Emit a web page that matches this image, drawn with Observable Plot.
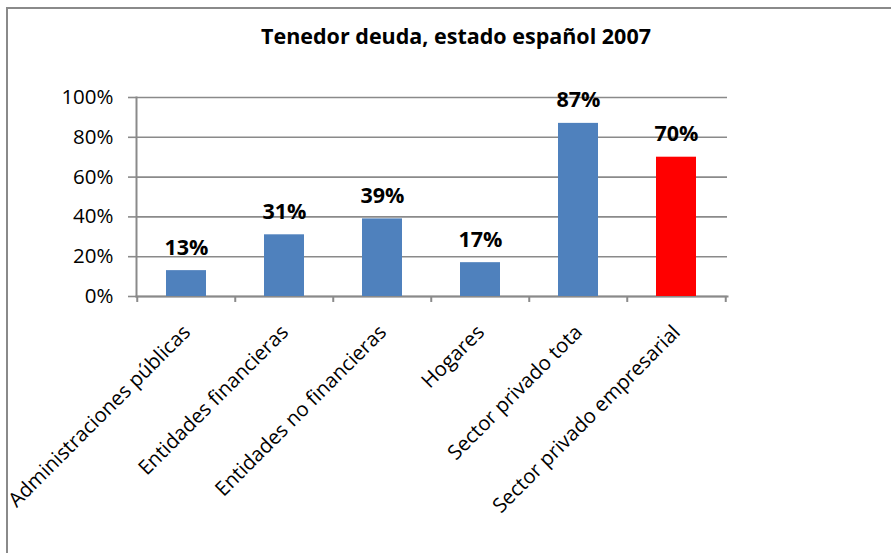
<!DOCTYPE html>
<html>
<head>
<meta charset="utf-8">
<script src="https://cdn.jsdelivr.net/npm/d3@7"></script>
<script src="https://cdn.jsdelivr.net/npm/@observablehq/plot@0.6"></script>
<style>
  html, body { margin: 0; padding: 0; background: #fff; }
  #wrap { position: relative; width: 891px; height: 553px; overflow: hidden; }
  #border { position: absolute; left: 6px; top: 7px; width: 900px; height: 560px;
            border-left: 2px solid #8a8a8a; border-top: 2px solid #8a8a8a; pointer-events: none; }
  svg { font-family: "Open Sans", sans-serif; }
</style>
</head>
<body>
<div id="wrap"><div id="border"></div></div>
<script>
const title = "Tenedor deuda, estado español 2007";
const categories = [
  "Administraciones públicas",
  "Entidades financieras",
  "Entidades no financieras",
  "Hogares",
  "Sector privado tota",
  "Sector privado empresarial"
];
const values = [0.13, 0.31, 0.39, 0.17, 0.87, 0.70];
const barColors = ["#4F81BD", "#4F81BD", "#4F81BD", "#4F81BD", "#4F81BD", "#FF0000"];
const yTicks = [0, 0.2, 0.4, 0.6, 0.8, 1.0];

const data = categories.map((c, i) => ({category: c, value: values[i], color: barColors[i]}));

const W = 891, H = 553;
const mL = 136, mR = 164, mT = 97, mB = 257;
const step = (W - mL - mR) / categories.length;
const grid = "#8a8a8a";

const chart = Plot.plot({
  width: W,
  height: H,
  marginLeft: mL,
  marginRight: mR,
  marginTop: mT,
  marginBottom: mB,
  style: {fontFamily: "'Open Sans', sans-serif", background: "transparent"},
  x: {domain: categories, paddingInner: 0.59, paddingOuter: 0.295, axis: null},
  y: {domain: [0, 1]},
  marks: [
    Plot.gridY(yTicks, {stroke: grid, strokeOpacity: 1, strokeWidth: 1.6}),
    Plot.axisY(yTicks, {
      tickFormat: d3.format(".0%"), tickSize: 8, tickPadding: 15,
      stroke: grid, strokeWidth: 1.6, fontSize: 20.5, fill: "#000", label: null
    }),
    Plot.frame({anchor: "left", stroke: grid, strokeWidth: 2}),
    Plot.frame({anchor: "bottom", stroke: grid, strokeWidth: 2}),
    Plot.ruleX(categories, {x: d => d, y1: 0, y2: -0.03, dx: -step / 2, stroke: grid, strokeWidth: 2}),
    Plot.ruleX(categories.slice(-1), {x: d => d, y1: 0, y2: -0.03, dx: step / 2, stroke: grid, strokeWidth: 2}),
    Plot.barY(data, {x: "category", y: "value", fill: "color"}),
    Plot.text(data, {
      x: "category", y: "value", text: d => d3.format(".0%")(d.value),
      dy: -16, lineAnchor: "bottom", fontWeight: "bold", fontSize: 21.5, fill: "#000"
    }),
    Plot.text(categories, {
      x: d => d, frameAnchor: "bottom", text: d => d, rotate: -45, textAnchor: "end",
      lineAnchor: "bottom", dx: 5, dy: 37, fontSize: 20.3, fill: "#000"
    }),
    Plot.text([title], {
      frameAnchor: "top", dx: 24, dy: -54, lineAnchor: "bottom",
      text: d => d, fontWeight: "bold", fontSize: 21.5, fill: "#000"
    })
  ]
});
document.getElementById("wrap").prepend(chart);
</script>
</body>
</html>
